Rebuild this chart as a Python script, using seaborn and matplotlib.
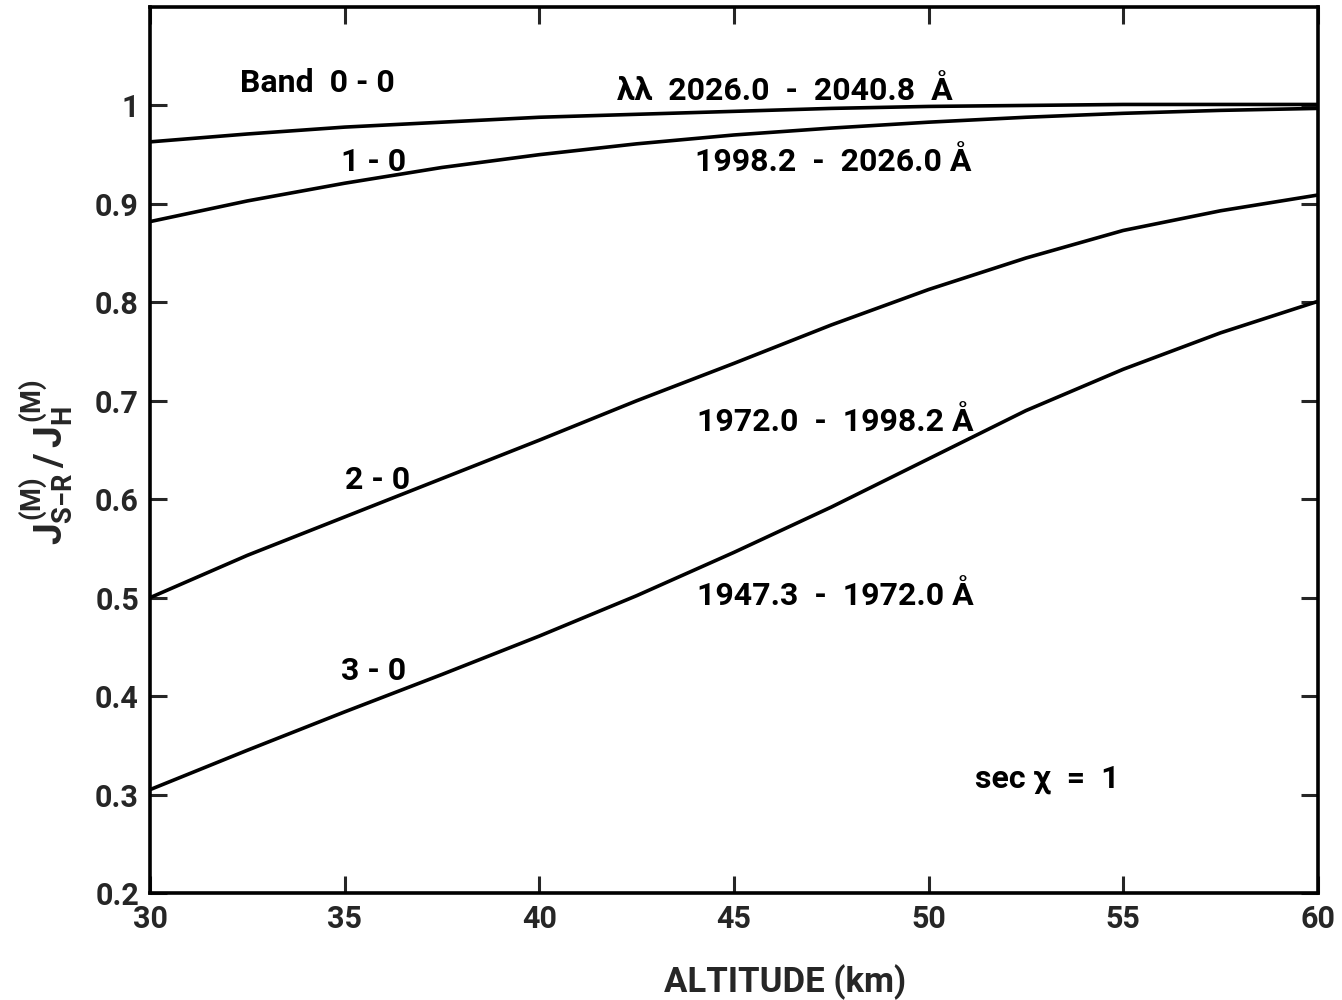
import matplotlib
matplotlib.use("Agg")
import matplotlib.pyplot as plt
import seaborn as sns
import pandas as pd

# Altitude grid (km) and the ratio J(M)S-R / J(M)H for each Schumann-Runge band
altitude = [30, 32.5, 35, 37.5, 40, 42.5, 45, 47.5, 50, 52.5, 55, 57.5, 60]
band_00 = [0.963, 0.971, 0.978, 0.983, 0.988, 0.991, 0.994, 0.997, 0.999, 1.000, 1.001, 1.001, 1.001]
band_10 = [0.882, 0.903, 0.921, 0.937, 0.950, 0.961, 0.970, 0.977, 0.983, 0.988, 0.992, 0.995, 0.997]
band_20 = [0.500, 0.543, 0.582, 0.621, 0.660, 0.700, 0.738, 0.777, 0.813, 0.845, 0.873, 0.893, 0.909]
band_30 = [0.305, 0.345, 0.384, 0.422, 0.461, 0.502, 0.546, 0.592, 0.641, 0.690, 0.732, 0.769, 0.801]

band_names = ["0-0", "1-0", "2-0", "3-0"]
x_ticks = [30, 35, 40, 45, 50, 55, 60]
y_ticks = [0.2, 0.3, 0.4, 0.5, 0.6, 0.7, 0.8, 0.9, 1.0]
y_tick_labels = ["0.2", "0.3", "0.4", "0.5", "0.6", "0.7", "0.8", "0.9", "1"]

sns.set_style("ticks")
plt.rcParams["font.family"] = ["Roboto", "DejaVu Sans"]
plt.rcParams["font.weight"] = "bold"
plt.rcParams["mathtext.fontset"] = "custom"
plt.rcParams["mathtext.rm"] = "Roboto:bold"
plt.rcParams["mathtext.it"] = "Roboto:bold"
plt.rcParams["mathtext.bf"] = "Roboto:bold"

rows = []
for name, vals in zip(band_names, [band_00, band_10, band_20, band_30]):
    for a, v in zip(altitude, vals):
        rows.append({"altitude": a, "ratio": v, "band": name})
df = pd.DataFrame(rows)

fig = plt.figure(figsize=(13.42, 10.0), dpi=100)
ax = fig.add_axes([0.1118, 0.107, 0.8702, 0.886])

sns.lineplot(data=df, x="altitude", y="ratio", hue="band",
             palette=["black"] * 4, linewidth=2.6, legend=False, ax=ax)

ax.set_xlim(30, 60)
ax.set_ylim(0.2, 1.1)
ax.set_xticks(x_ticks)
ax.set_yticks(y_ticks)
ax.set_yticklabels(y_tick_labels)
ax.tick_params(direction="in", length=12, width=2.2, labelsize=22,
               top=True, right=True, pad=8)
for lab in ax.get_xticklabels() + ax.get_yticklabels():
    lab.set_fontweight("bold")
for sp in ax.spines.values():
    sp.set_linewidth(2.6)
    sp.set_color("black")

ax.set_xlabel("")
ax.set_ylabel("")
fig.text(0.585, 0.018, "ALTITUDE (km)", fontsize=25, fontweight="bold",
         ha="center", va="center")
fig.text(0.035, 0.538, r"$J^{(M)}_{S\mathrm{-}R}\,/\,J^{(M)}_{H}$", fontsize=28,
         rotation=90, ha="center", va="center")

txt = dict(fontsize=23, fontweight="bold", color="black")
ax.text(32.3, 1.023, "Band  0 - 0", ha="left", va="center", **txt)
ax.text(42.0, 1.015, "λλ  2026.0  -  2040.8  Å", ha="left", va="center", **txt)
ax.text(34.9, 0.943, "1 - 0", ha="left", va="center", **txt)
ax.text(44.0, 0.943, "1998.2  -  2026.0 Å", ha="left", va="center", **txt)
ax.text(35.0, 0.620, "2 - 0", ha="left", va="center", **txt)
ax.text(44.05, 0.678, "1972.0  -  1998.2 Å", ha="left", va="center", **txt)
ax.text(34.9, 0.426, "3 - 0", ha="left", va="center", **txt)
ax.text(44.05, 0.502, "1947.3  -  1972.0 Å", ha="left", va="center", **txt)
ax.text(51.2, 0.316, "sec χ  =  1", ha="left", va="center", **txt)

fig.savefig("out.png", dpi=100)
